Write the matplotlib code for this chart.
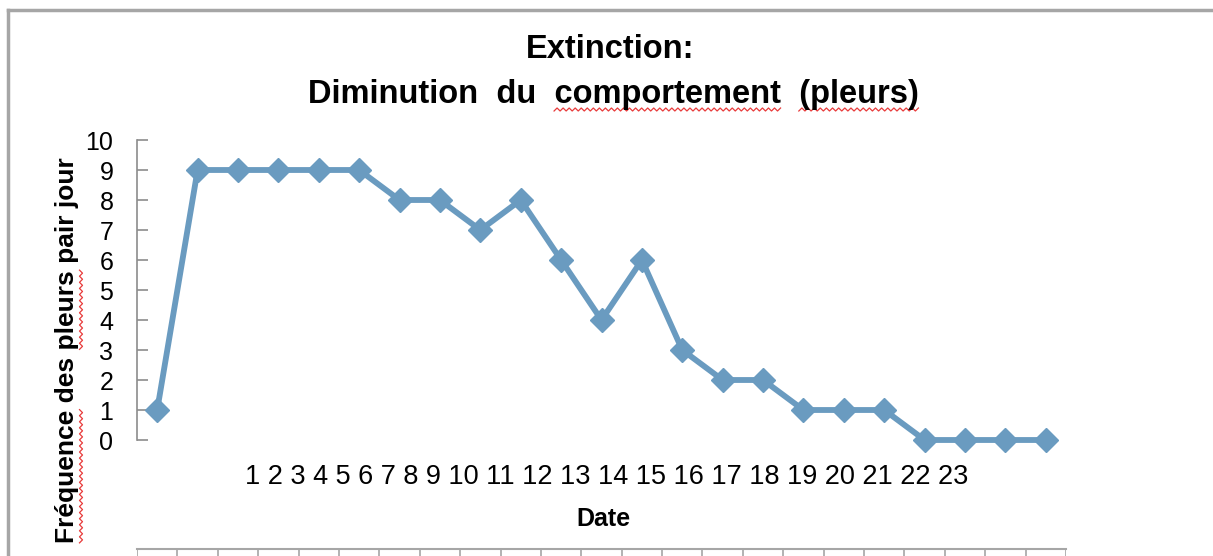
import numpy as np
import matplotlib
matplotlib.use("Agg")
import matplotlib.pyplot as plt
from matplotlib.lines import Line2D

# data
days = list(range(1, 24))
pleurs = [1, 9, 9, 9, 9, 9, 8, 8, 7, 8, 6, 4, 6, 3, 2, 2, 1, 1, 1, 0, 0, 0, 0]
day_labels = [str(d) for d in days]
y_ticks = list(range(0, 11))

TITLE1 = "Extinction:"
TITLE2 = ["Diminution", "du", "comportement", "(pleurs)"]
YLABEL = ["Fréquence", "des", "pleurs", "pair", "jour"]
MISSPELT = {"comportement", "(pleurs)", "Fréquence", "pleurs"}

LINE = "#6a9bc0"
GRID = "#a6a6a6"
SPELL = "#e83b3b"

W, H = 1213, 556
fig = plt.figure(figsize=(W / 100, H / 100), dpi=100)
plt.rcParams["font.family"] = ["Liberation Sans", "DejaVu Sans"]


def px(x0, y0, x1, y1):
    """pixel box (top-left origin) -> figure rect"""
    return [x0 / W, 1 - y1 / H, (x1 - x0) / W, (y1 - y0) / H]


def squiggle(x0, y0, x1, y1, step=3.0, amp=1.5):
    """spell-check wave, display coords (origin bottom-left)"""
    n = int(max(abs(x1 - x0), abs(y1 - y0)) / step) + 1
    t = np.linspace(0, 1, n)
    off = amp * np.where(np.arange(n) % 2, 1, -1)
    xs = x0 + (x1 - x0) * t
    ys = y0 + (y1 - y0) * t
    if x0 == x1:
        xs = xs + off
    else:
        ys = ys + off
    fig.add_artist(Line2D(xs / W, ys / H, color=SPELL, lw=0.9))


def word_spans(words, sep, **kw):
    """width of each word prefix, measured with throwaway text objects"""
    r = fig.canvas.get_renderer()
    spans = []
    for i, w in enumerate(words):
        pre = sep.join(words[:i]) + (sep if i else "")
        a = fig.text(0, 0, pre + "|", **kw)
        b = fig.text(0, 0, "|", **kw)
        c = fig.text(0, 0, w, **kw)
        start = a.get_window_extent(r).width - b.get_window_extent(r).width
        spans.append((start, start + c.get_window_extent(r).width))
        for t in (a, b, c):
            t.remove()
    return spans


ax = fig.add_axes(px(137, 140, 1066, 440))
ax.plot(days, pleurs, color=LINE, lw=4.2, marker="D", ms=12,
        markeredgecolor=LINE, clip_on=False, zorder=3)
ax.set_xlim(0.5, len(days) + 0.5)
ax.set_ylim(0, 10)
ax.set_yticks(y_ticks)
ax.tick_params(axis="y", direction="in", length=8, width=1.2, color="#8c8c8c",
               labelsize=18, pad=17)
ax.set_xticks([])
for s in ("top", "right", "bottom"):
    ax.spines[s].set_visible(False)
ax.spines["left"].set_color("#8c8c8c")
ax.spines["left"].set_linewidth(1.2)
ax.spines["left"].set_position(("data", 0.5))

# category labels written as one row, like the original sheet
fig.text(607 / W, 1 - 477 / H, " ".join(day_labels), ha="center", va="center",
         fontsize=19.5)
fig.text(603 / W, 1 - 519 / H, "Date", ha="center", va="center",
         fontsize=18, fontweight="bold")

title_kw = dict(fontsize=23.5, fontweight="bold")
fig.text(610 / W, 1 - 50 / H, TITLE1, ha="center", va="center", **title_kw)
t2 = fig.text(613 / W, 1 - 95 / H, "  ".join(TITLE2), ha="center", va="center",
              **title_kw)

ylab_kw = dict(fontsize=19, fontweight="bold")
yl = fig.text(67 / W, 1 - 350 / H, " ".join(YLABEL), rotation=90,
              ha="center", va="center", **ylab_kw)

# spell-check marks carried over from the source document
r = fig.canvas.get_renderer()
bb = t2.get_window_extent(r)
for w, (a, b) in zip(TITLE2, word_spans(TITLE2, "  ", **title_kw)):
    if w in MISSPELT:
        squiggle(bb.x0 + a, bb.y0 + 1, bb.x0 + b, bb.y0 + 1)
bb = yl.get_window_extent(r)
for w, (a, b) in zip(YLABEL, word_spans(YLABEL, " ", **ylab_kw)):
    if w in MISSPELT:
        squiggle(bb.x1 + 2, bb.y0 + a, bb.x1 + 2, bb.y0 + b)

# top edge of the next chart, cut off by the picture border
ax2 = fig.add_axes(px(137, 549, 1066, 590))
ax2.set_xlim(ax.get_xlim())
ax2.set_ylim(0, 1)
ax2.vlines([d - 0.5 for d in days] + [days[-1] + 0.5], 0, 1, color=GRID, lw=1.2)
ax2.axis("off")
ax2.axhline(1, color=GRID, lw=1.5, clip_on=False)

# sheet border
fig.add_artist(Line2D([8 / W, 1], [1 - 10 / H] * 2, color=GRID, lw=2.5))
fig.add_artist(Line2D([8 / W] * 2, [0, 1 - 10 / H], color=GRID, lw=2.5))

fig.savefig("out.png", dpi=100)
